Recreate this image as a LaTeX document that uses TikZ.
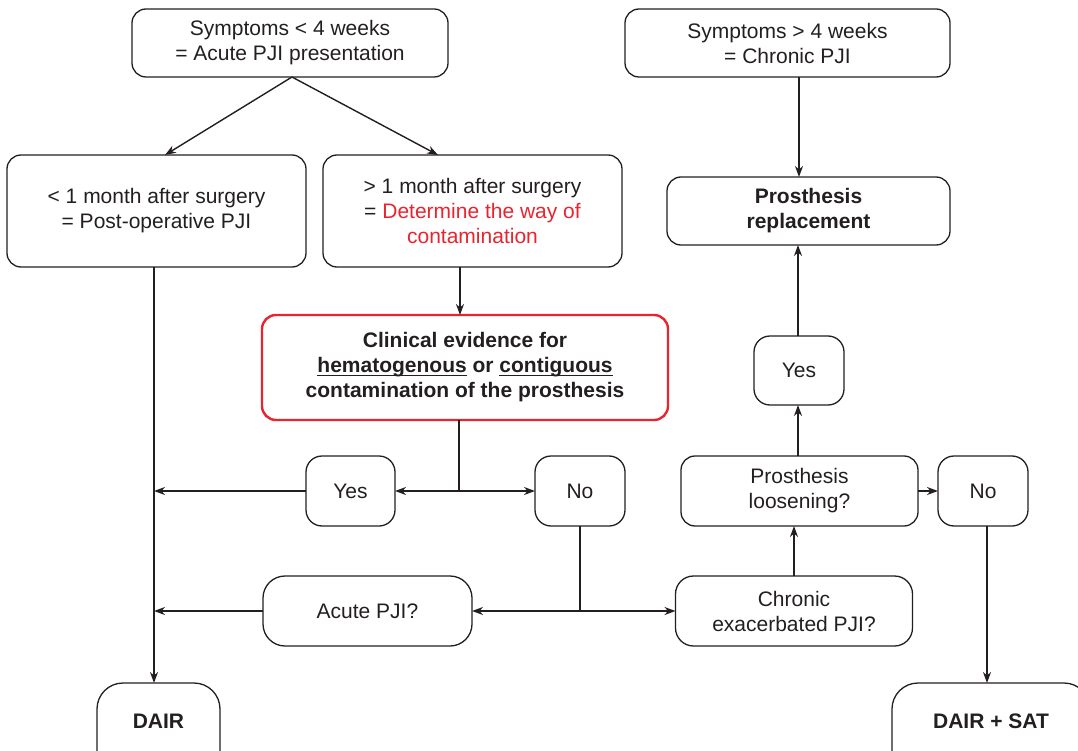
\documentclass[tikz,border=0pt]{standalone}
\usepackage{fontspec}
\setmainfont{Liberation Sans}
\usetikzlibrary{arrows.meta}
\definecolor{ink}{HTML}{231F20}
\definecolor{alert}{HTML}{E8242F}
% word with a solid underline a little below the baseline
\newcommand\ulword[1]{\setbox0\hbox{#1}\rlap{\rule[-3.2pt]{\wd0}{1.3pt}}\box0\relax}
\tikzset{
  box/.style={draw=ink, line width=1.3pt, rounded corners=14pt, align=center,
    inner sep=0pt, outer sep=0pt, text=ink,
    font=\fontsize{21}{25}\selectfont},
  boldbox/.style={box, font=\fontsize{21}{25}\selectfont\bfseries},
  redbox/.style={boldbox, draw=alert, line width=2.4pt},
  endbox/.style={boldbox, rounded corners=26pt},
  arr/.style={draw=ink, line width=1.4pt,
    -{Stealth[length=11pt,width=8pt,inset=3.5pt]}},
  ln/.style={draw=ink, line width=1.4pt}
}
\begin{document}
\begin{tikzpicture}[x=1pt,y=-1pt]
\useasboundingbox (0,0) rectangle (1078,751);
\clip (0,0) rectangle (1078,751);

% boxes
\node[box, minimum width=316, minimum height=68] (A) at (290,43)
  {Symptoms < 4 weeks\\= Acute PJI presentation};
\node[box, minimum width=325, minimum height=68] (B) at (787.5,43)
  {Symptoms > 4 weeks\\= Chronic PJI};
\node[box, minimum width=299, minimum height=112] (C) at (156.5,211)
  {< 1 month after surgery\\= Post-operative PJI};
\node[box, minimum width=299, minimum height=112] (D) at (472.5,211)
  {> 1 month after surgery\\= \textcolor{alert}{Determine the way of}\\\textcolor{alert}{contamination}};
\node[boldbox, minimum width=283, minimum height=68] (E) at (808.5,211)
  {Prosthesis\\replacement};
\node[redbox, minimum width=406, minimum height=105] (F) at (465,367.5)
  {Clinical evidence for\\\ulword{hematogenous} or \ulword{contiguous}\\contamination of the prosthesis};
\node[box, rounded corners=16pt, minimum width=90, minimum height=69] (Y2) at (799,370.5) {Yes};
\node[box, rounded corners=16pt, minimum width=89, minimum height=70] (Y1) at (350.5,491) {Yes};
\node[box, rounded corners=16pt, minimum width=90, minimum height=70] (N1) at (580,491) {No};
\node[box, minimum width=237, minimum height=70] (G) at (799.5,491)
  {Prosthesis\\loosening?};
\node[box, rounded corners=16pt, minimum width=90, minimum height=70] (N2) at (983,491) {No};
\node[box, rounded corners=22pt, minimum width=209, minimum height=70] (H) at (367.5,611)
  {Acute PJI?};
\node[box, rounded corners=18pt, minimum width=237, minimum height=70] (I) at (794,611)
  {Chronic\\exacerbated PJI?};
\node[endbox, minimum width=123, minimum height=96] (DAIR) at (158.5,731) {\raisebox{20pt}{DAIR}};
\node[endbox, minimum width=198, minimum height=96] (DS) at (991,731) {\raisebox{20pt}{DAIR + SAT}};

% junction points
\coordinate (spine) at ([xshift=-2.5pt]C.south);
\coordinate (j1) at ([xshift=-6pt]F.south |- Y1.east);
\coordinate (j2) at (N1.south |- H.east);

% connectors
\draw[arr] ([xshift=2pt]A.south) -- ([xshift=8.5pt]C.north);
\draw[arr] ([xshift=2pt]A.south) -- ([xshift=-34.5pt]D.north);
\draw[arr] (spine) -- (spine |- DAIR.north);
\draw[arr] ([xshift=-12.5pt]D.south) -- ([xshift=-12.5pt]D.south |- F.north);
\draw[ln] ([xshift=-6pt]F.south) -- (j1);
\draw[arr] (j1) -- (Y1.east);
\draw[arr] (j1) -- (N1.west);
\draw[arr] (Y1.west) -- (Y1.west -| spine);
\draw[ln] (N1.south) -- (j2);
\draw[arr] (j2) -- (H.east);
\draw[arr] (j2) -- (I.west);
\draw[arr] (H.west) -- (H.west -| spine);
\draw[arr] (I.north) -- (I.north |- G.south);
\draw[arr] ([xshift=-1.5pt]G.north) -- ([xshift=-1.5pt]G.north |- Y2.south);
\draw[arr] ([xshift=-1pt]Y2.north) -- ([xshift=-1pt]Y2.north |- E.south);
\draw[arr] (B.south -| Y2.north) -- (E.north -| Y2.north);
\draw[arr] (G.east) -- (N2.west);
\draw[arr] ([xshift=4pt]N2.south) -- ([xshift=4pt]N2.south |- DS.north);
\end{tikzpicture}
\end{document}
